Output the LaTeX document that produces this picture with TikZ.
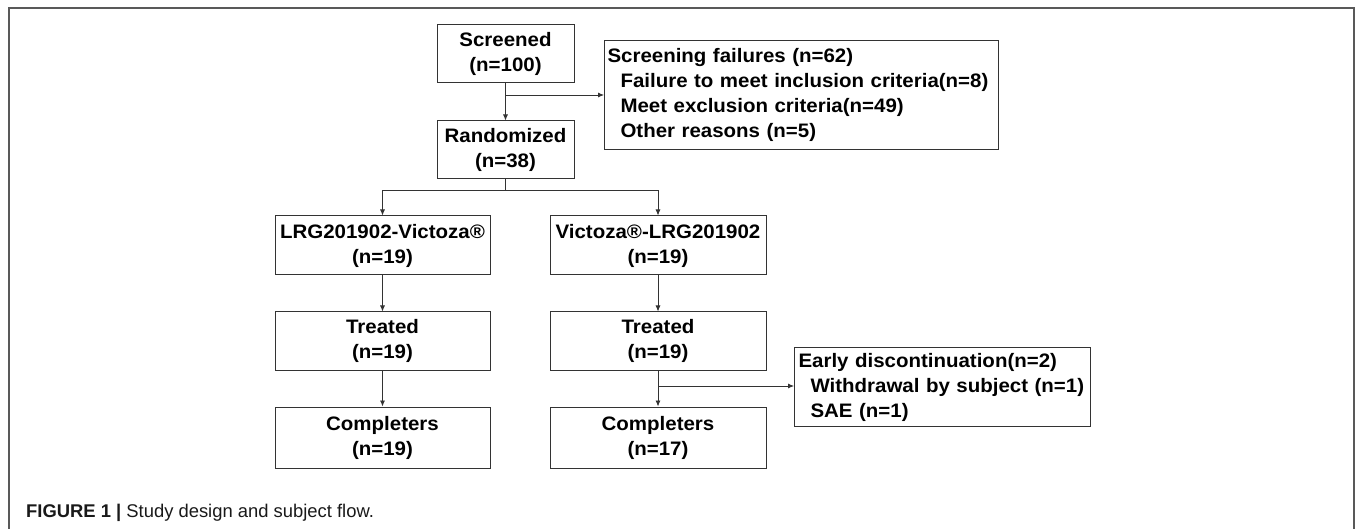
\documentclass[tikz,border=0pt]{standalone}
\usepackage{fontspec}
\setmainfont{Liberation Sans}
\newfontfamily\boxfont{Liberation Sans}[FakeStretch=1.05]
\usetikzlibrary{arrows.meta}
\tikzset{
  box/.style={draw=black!80, line width=1pt, font=\boxfont\bfseries\fontsize{19.5}{25}\selectfont,
              align=center, inner sep=0pt, text=black},
  lbox/.style={box, align=left},
  arr/.style={draw=black!80, line width=0.8pt, -{Latex[length=6pt,width=5pt]}},
  link/.style={draw=black!80, line width=0.8pt},
  frame/.style={draw=black!65, line width=1.8pt},
}
\begin{document}
\begin{tikzpicture}[x=1pt,y=-1pt]
\useasboundingbox (0,0) rectangle (1355,529);
\draw[frame] (9,529) -- (9,8) -- (1354,8) -- (1354,529);

\node[box, minimum width=137pt, minimum height=58pt] (scr) at (505.5,54) {Screened\\(n=100)};
\node[box, minimum width=137pt, minimum height=58pt] (rand) at (505.5,150) {Randomized\\(n=38)};
\node[lbox, anchor=north west, text width=388pt, minimum height=109pt, inner xsep=3pt] (fail) at (604,40)
  {Screening failures (n=62)\\
   \hspace*{13pt}Failure to meet inclusion criteria(n=8)\\
   \hspace*{13pt}Meet exclusion criteria(n=49)\\
   \hspace*{13pt}Other reasons (n=5)};

\node[box, minimum width=215pt, minimum height=59pt] (lrg) at (382.5,245.5) {LRG201902-Victoza®\\(n=19)};
\node[box, minimum width=216pt, minimum height=59pt] (vic) at (658,245.5) {Victoza®-LRG201902\\(n=19)};
\node[box, minimum width=215pt, minimum height=58pt] (ltr) at (382.5,341) {Treated\\(n=19)};
\node[box, minimum width=216pt, minimum height=58pt] (vtr) at (658,341) {Treated\\(n=19)};
\node[box, minimum width=215pt, minimum height=61pt] (lcomp) at (382.5,437.5) {Completers\\(n=19)};
\node[box, minimum width=216pt, minimum height=61pt] (vcomp) at (658,437.5) {Completers\\(n=17)};

\node[lbox, anchor=north west, text width=288pt, minimum height=79pt, inner xsep=4pt] (early) at (794,347)
  {Early discontinuation(n=2)\\
   \hspace*{12pt}Withdrawal by subject (n=1)\\
   \hspace*{12pt}SAE (n=1)};

\coordinate (b1) at (505.5,95);
\draw[arr] (scr.south) -- (rand.north);
\draw[arr] (b1) -- (b1 -| fail.west);

\coordinate (b2) at (505.5,190);
\draw[link] (rand.south) -- (b2);
\draw[arr] (b2) -| (lrg.north);
\draw[arr] (b2) -| (vic.north);

\draw[arr] (lrg.south) -- (ltr.north);
\draw[arr] (vic.south) -- (vtr.north);
\draw[arr] (ltr.south) -- (lcomp.north);
\draw[arr] (vtr.south) -- (vcomp.north);

\coordinate (b3) at (658,386);
\draw[arr] (b3) -- (b3 -| early.west);

\node[anchor=west, inner sep=0pt, font=\fontsize{18.4}{22}\selectfont, text=black!90] (cap) at (26,513)
  {\textbf{FIGURE 1 |} Study design and subject flow.};
\end{tikzpicture}
\end{document}
